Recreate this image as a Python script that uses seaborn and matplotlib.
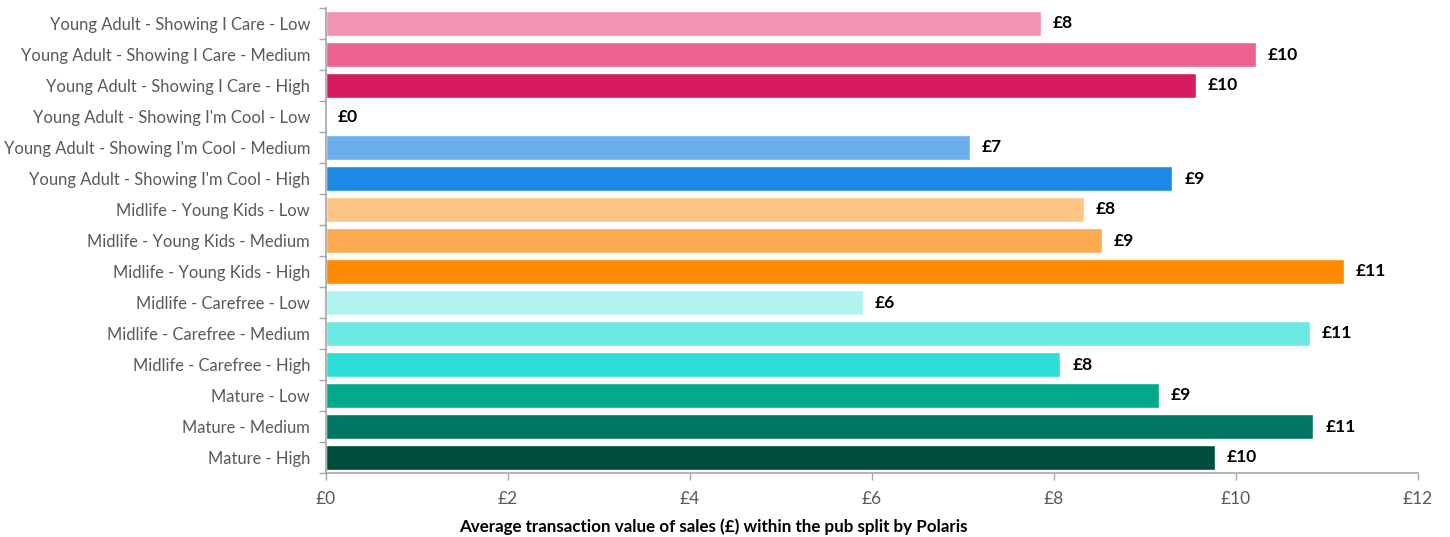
import matplotlib
matplotlib.use("Agg")
import matplotlib.pyplot as plt
import seaborn as sns
import pandas as pd
import numpy as np
from matplotlib.ticker import FixedLocator, FuncFormatter

categories = [
    "Young Adult - Showing I Care - Low",
    "Young Adult - Showing I Care - Medium",
    "Young Adult - Showing I Care - High",
    "Young Adult - Showing I'm Cool - Low",
    "Young Adult - Showing I'm Cool - Medium",
    "Young Adult - Showing I'm Cool - High",
    "Midlife - Young Kids - Low",
    "Midlife - Young Kids - Medium",
    "Midlife - Young Kids - High",
    "Midlife - Carefree - Low",
    "Midlife - Carefree - Medium",
    "Midlife - Carefree - High",
    "Mature - Low",
    "Mature - Medium",
    "Mature - High",
]
values = [7.86, 10.22, 9.56, 0.0, 7.08, 9.30, 8.33, 8.53, 11.19, 5.90, 10.81, 8.07, 9.15, 10.85, 9.77]
colors = [
    "#F294B5", "#EC6291", "#D81B60",
    "#FFFFFF", "#6BAFEC", "#1E88E5",
    "#FFC585", "#FFAB52", "#FF8A00",
    "#B1F3EF", "#6CE9E2", "#2CDED6",
    "#00A98B", "#007562", "#004D40",
]
x_label = "Average transaction value of sales (£) within the pub split by Polaris"

sns.set_theme(style="white")
plt.rcParams["font.family"] = ["Lato", "DejaVu Sans"]

df = pd.DataFrame({"cat": categories, "val": values})

fig = plt.figure(figsize=(14.5, 5.37), dpi=100)
ax = fig.add_axes([326 / 1450, 1 - 473 / 537, (1418 - 326) / 1450, 465 / 537])

sns.barplot(data=df, y="cat", x="val", hue="cat", palette=colors, dodge=False,
            legend=False, ax=ax, width=0.8, saturation=1, orient="h")

ax.set_xlim(0, 12)
ax.set_ylim(len(categories) - 0.5, -0.5)
ax.set_xticks(np.arange(0, 13, 2))
ax.xaxis.set_major_formatter(FuncFormatter(lambda v, p: f"£{int(v)}"))
ax.tick_params(axis="x", labelsize=12.5, labelcolor="#595959", length=5, width=1,
               direction="out", bottom=True, pad=8, color="#A6A6A6")
ax.tick_params(axis="y", labelsize=11.9, labelcolor="#595959", length=0, pad=11.5)
ax.yaxis.set_minor_locator(FixedLocator(np.arange(-0.5, len(categories), 1)))
ax.tick_params(axis="y", which="minor", length=5, width=1, color="#A6A6A6",
               left=True, direction="out")

for s in ["top", "right"]:
    ax.spines[s].set_visible(False)
for s in ["left", "bottom"]:
    ax.spines[s].set_color("#A6A6A6")
    ax.spines[s].set_linewidth(1.2)

ax.set_ylabel("")
ax.set_xlabel(x_label, fontsize=12.25, fontweight="bold", color="#000000")
ax.xaxis.set_label_coords((713 - 326) / (1418 - 326), -(527 - 473) / 465)
ax.xaxis.label.set_va("center")

for i, v in enumerate(values):
    ax.text(v + 0.13, i, f"£{round(v):.0f}", va="center", ha="left",
            fontsize=12.5, fontweight="bold", color="#000000")

fig.savefig("out.png", dpi=100, facecolor="white")
